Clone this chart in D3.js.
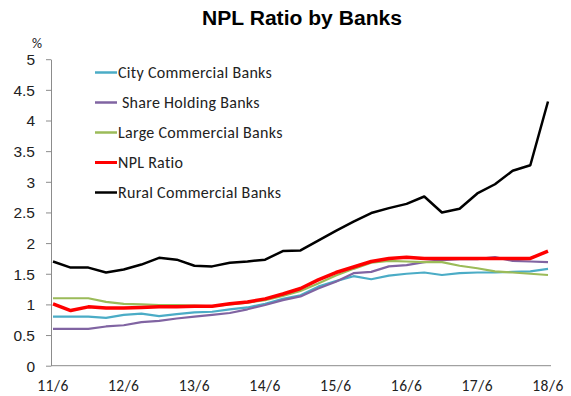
<!DOCTYPE html>
<html lang="en">
<head>
<meta charset="utf-8">
<script src="https://d3js.org/d3.v7.min.js"></script>
<style>
	body { margin: 0; background: white; }
	svg { font-family: Carlito, "Open Sans", "Liberation Sans", sans-serif; }
	.title { font-family: "Liberation Sans", Arial, sans-serif; font-weight: bold; font-size: 19.5px; }
	.axis path, .axis line { stroke: #8c8c8c; }
	.axis text { font-size: 15.5px; fill: #222; }
	.x-labels text { letter-spacing: 0.5px; }
	.legend text { font-size: 16px; fill: #222; letter-spacing: 0.3px; }
	.series { fill: none; stroke-linejoin: round; }
</style>
</head>
<body>
<svg width="571" height="396"></svg>
<script>
	// quarterly, 11/6 .. 18/6
	const quarters = d3.range(29);
	const tickLabels = ["11/6", "12/6", "13/6", "14/6", "15/6", "16/6", "17/6", "18/6"];
	const yTicks = [0, 0.5, 1, 1.5, 2, 2.5, 3, 3.5, 4, 4.5, 5];

	const cityCommercial = [0.80, 0.80, 0.80, 0.78, 0.83, 0.85, 0.81, 0.84, 0.87, 0.88, 0.92, 0.95, 1.01, 1.09, 1.15, 1.29, 1.38, 1.46, 1.41, 1.47, 1.50, 1.52, 1.48, 1.51, 1.52, 1.52, 1.53, 1.54, 1.58];
	const shareHolding = [0.60, 0.60, 0.60, 0.64, 0.66, 0.71, 0.73, 0.77, 0.80, 0.83, 0.86, 0.92, 0.99, 1.07, 1.13, 1.26, 1.37, 1.51, 1.53, 1.62, 1.64, 1.69, 1.72, 1.74, 1.74, 1.77, 1.71, 1.70, 1.69];
	const largeCommercial = [1.10, 1.10, 1.10, 1.04, 1.01, 1.00, 0.99, 0.99, 0.98, 0.97, 1.00, 1.03, 1.07, 1.14, 1.22, 1.34, 1.47, 1.58, 1.68, 1.71, 1.70, 1.69, 1.69, 1.63, 1.59, 1.54, 1.52, 1.50, 1.48];
	const nplRatio = [1.01, 0.90, 0.96, 0.94, 0.94, 0.95, 0.96, 0.96, 0.97, 0.97, 1.01, 1.04, 1.09, 1.17, 1.26, 1.40, 1.52, 1.61, 1.70, 1.75, 1.77, 1.75, 1.75, 1.75, 1.75, 1.75, 1.75, 1.75, 1.87];
	const ruralCommercial = [1.70, 1.60, 1.60, 1.52, 1.57, 1.65, 1.76, 1.73, 1.63, 1.62, 1.68, 1.70, 1.73, 1.87, 1.88, 2.04, 2.20, 2.35, 2.49, 2.57, 2.64, 2.76, 2.50, 2.56, 2.81, 2.96, 3.18, 3.27, 4.31];

	const seriesNames = ["City Commercial Banks", " Share Holding Banks", "Large Commercial Banks", "NPL Ratio", "Rural Commercial Banks"];
	const seriesValues = [cityCommercial, shareHolding, largeCommercial, nplRatio, ruralCommercial];
	const seriesColors = ["#4bacc6", "#8064a2", "#9bbb59", "#ff0000", "#000000"];
	const seriesWidths = [2.2, 2.2, 2.2, 3.5, 2.5];

	const svg = d3.select("svg");
	const axisLeftX = 51, axisBottomY = 365.7, axisTopY = 59.2;

	const x = d3.scaleLinear().domain([0, 28]).range([53, 548]);
	const y = d3.scaleLinear().domain([0, 5]).range([axisBottomY, axisTopY]);

	svg.append("text")
		.attr("class", "title")
		.attr("x", 202).attr("y", 25)
		.attr("textLength", 200)
		.attr("lengthAdjust", "spacingAndGlyphs")
		.text("NPL Ratio by Banks");

	// y axis
	const yAxis = svg.append("g")
		.attr("class", "axis")
		.attr("transform", "translate(" + axisLeftX + ",0)")
		.call(d3.axisLeft(y).tickValues(yTicks).tickSize(5).tickSizeOuter(0).tickPadding(11).tickFormat(d3.format("")));
	yAxis.selectAll("text").attr("dy", "0.35em");

	svg.append("text")
		.attr("x", 37).attr("y", 48)
		.attr("text-anchor", "middle")
		.style("font-size", "14px")
		.attr("fill", "#222")
		.text("%");

	// x axis
	const xAxis = svg.append("g")
		.attr("class", "axis x-labels")
		.attr("transform", "translate(0," + axisBottomY + ")");
	xAxis.append("line")
		.attr("x1", axisLeftX).attr("x2", 551)
		.attr("y1", 0).attr("y2", 0)
		.attr("stroke", "#8c8c8c");
	xAxis.selectAll("text.tick-label")
		.data(tickLabels)
		.join("text")
		.attr("class", "tick-label")
		.attr("x", (d, i) => x(i * 4))
		.attr("y", 25)
		.attr("text-anchor", "middle")
		.text(d => d);

	// lines
	const line = d3.line()
		.x((d, i) => x(quarters[i]))
		.y(d => y(d));

	svg.selectAll("path.series")
		.data(seriesValues)
		.join("path")
		.attr("class", "series")
		.attr("stroke", (d, i) => seriesColors[i])
		.attr("stroke-width", (d, i) => seriesWidths[i])
		.attr("d", d => line(d));

	// legend
	const legend = svg.append("g").attr("class", "legend");
	const rows = legend.selectAll("g")
		.data(seriesNames)
		.join("g")
		.attr("transform", (d, i) => "translate(95," + (72.5 + i * 30) + ")");
	rows.append("line")
		.attr("x1", 0).attr("x2", 22)
		.attr("stroke", (d, i) => seriesColors[i])
		.attr("stroke-width", (d, i) => i === 3 ? 3 : 2.5);
	rows.append("text")
		.attr("x", 23).attr("dy", "0.35em")
		.attr("xml:space", "preserve")
		.style("white-space", "pre")
		.text(d => d);
</script>
</body>
</html>
